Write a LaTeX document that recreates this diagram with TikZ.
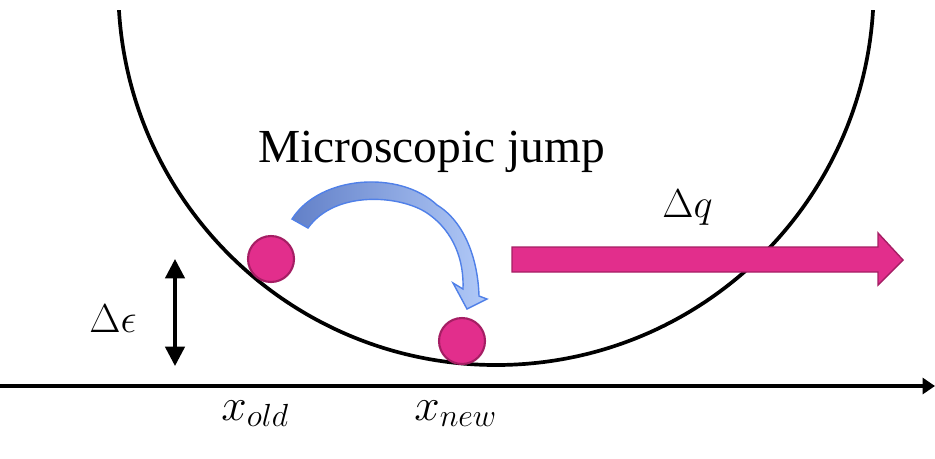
\RequirePackage{fix-cm}
\documentclass[tikz,border=0pt]{standalone}
\usepackage{fontspec}
\setmainfont{Liberation Serif}
\usetikzlibrary{arrows.meta}
\definecolor{ballfill}{RGB}{226,46,140}
\definecolor{balledge}{RGB}{165,30,100}
\definecolor{jumpdark}{RGB}{98,128,200}
\definecolor{jumplight}{RGB}{178,202,248}
\definecolor{jumpedge}{RGB}{80,128,232}
\tikzset{
  ball/.style={circle, fill=ballfill, draw=balledge, line width=1.2pt, minimum size=0.92cm, inner sep=0pt},
  lbl/.style={inner sep=0pt, anchor=base west},
  thickline/.style={line width=2.1pt, black},
}
\begin{document}
\begin{tikzpicture}[x=0.02cm, y=-0.02cm]
\useasboundingbox (0,0) rectangle (935,458);
% U-shaped well
\begin{scope}
\clip (0,10) rectangle (935,458);
\draw[thickline] (496,-12.7) circle[radius=377.7];
\end{scope}
% axis
\coordinate (axL) at (0,386);
\coordinate (axR) at (935,386);
\draw[thickline, -{Triangle[width=9pt,length=7pt]}] (axL) -- (axR);
% balls
\node[ball] (old) at (271,259) {};
\node[ball] (new) at (462,341) {};
% curved jump arrow
\shade[left color=jumpdark, right color=jumplight, draw=jumpedge, line width=0.8pt]
  (292,219) .. controls (320,175) and (400,170) .. (437,205)
  .. controls (465,222) and (478,260) .. (479,296)
  -- (487,299) -- (467,309) -- (453,283) -- (463,289)
  .. controls (464,262) and (455,232) .. (427,213)
  .. controls (400,195) and (335,190) .. (308,228) -- cycle;
% big pink arrow
\fill[ballfill, draw=balledge, line width=0.8pt]
  (512,247) -- (878,247) -- (878,233) -- (903,260) -- (878,285) -- (878,272) -- (512,272) -- cycle;
% delta epsilon arrow
\coordinate (eTop) at (175,259);
\coordinate (eBot) at (175,366);
\draw[line width=1.9pt, {Triangle[width=11pt,length=11pt]}-{Triangle[width=11pt,length=11pt]}] (eTop) -- (eBot);
% labels
\node[lbl] (title) at (258,162) {\fontsize{27}{32}\selectfont Microscopic jump};
\node[lbl] (dq) at (662,217) {\fontsize{23}{28}\selectfont $\Delta q$};
\node[lbl] (de) at (89,332) {\fontsize{23}{28}\selectfont $\Delta\epsilon$};
\node[lbl] (xo) at (221,420) {\fontsize{26}{30}\selectfont $x_{old}$};
\node[lbl] (xn) at (414,420) {\fontsize{26}{30}\selectfont $x_{new}$};
\end{tikzpicture}
\end{document}
